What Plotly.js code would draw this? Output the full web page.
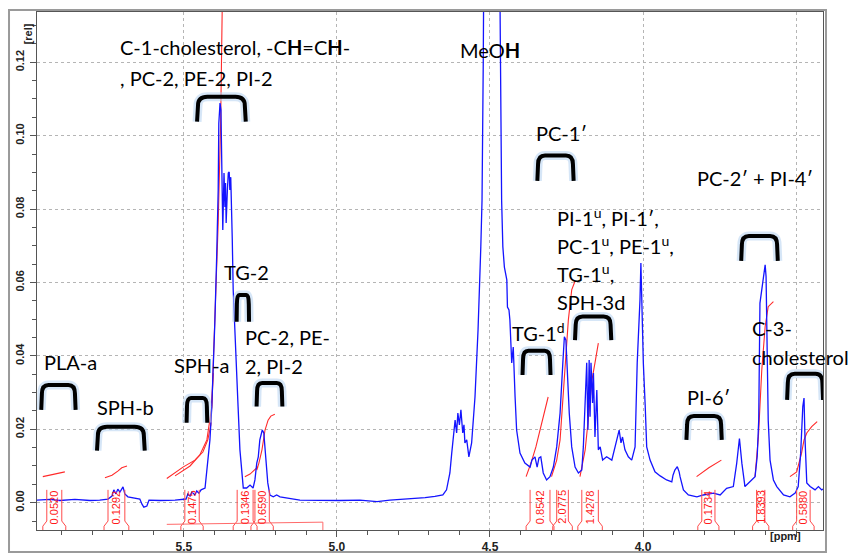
<!DOCTYPE html>
<html><head><meta charset="utf-8">
<script src="https://cdn.plot.ly/plotly-3.0.1.min.js"></script>
<style>html,body{margin:0;padding:0;background:#fff;}#chart{width:856px;height:554px;}</style>
</head><body><div id="chart"></div>
<script>
// ---- 1H NMR spectrum (ppm, relative intensity) ----
const ppm = [
5.980,5.938,5.905,5.856,5.807,5.775,5.748,5.735,5.729,5.722,
5.716,5.709,5.699,5.693,5.683,5.663,5.644,5.637,5.631,5.621,
5.614,5.578,5.529,5.493,5.487,5.480,5.474,5.464,5.458,5.451,
5.444,5.431,5.422,5.415,5.409,5.404,5.399,5.393,5.388,5.386,
5.382,5.379,5.377,5.375,5.373,5.369,5.366,5.364,5.362,5.358,
5.355,5.352,5.350,5.347,5.344,5.342,5.339,5.333,5.328,5.323,
5.317,5.311,5.306,5.295,5.284,5.274,5.268,5.262,5.257,5.252,
5.244,5.239,5.232,5.226,5.219,5.208,5.197,5.186,5.121,5.056,
4.990,4.925,4.869,4.827,4.761,4.712,4.680,4.654,4.642,4.631,
4.625,4.621,4.614,4.609,4.605,4.600,4.595,4.589,4.585,4.582,
4.576,4.569,4.560,4.549,4.539,4.530,4.526,4.522,4.520,4.513,
4.493,4.474,4.467,4.462,4.458,4.453,4.445,4.443,4.438,4.435,
4.429,4.424,4.418,4.413,4.402,4.386,4.369,4.363,4.353,4.346,
4.340,4.334,4.326,4.315,4.304,4.293,4.282,4.271,4.262,4.257,
4.252,4.246,4.241,4.233,4.222,4.211,4.200,4.195,4.189,4.184,
4.180,4.176,4.173,4.170,4.165,4.162,4.157,4.151,4.146,4.140,
4.132,4.119,4.102,4.092,4.084,4.078,4.072,4.067,4.059,4.048,
4.037,4.026,4.019,4.014,4.010,4.007,4.003,3.999,3.993,3.988,
3.977,3.961,3.944,3.931,3.923,3.906,3.902,3.896,3.888,3.882,
3.879,3.868,3.852,3.824,3.803,3.770,3.748,3.727,3.705,3.694,
3.685,3.677,3.667,3.656,3.645,3.634,3.627,3.622,3.618,3.612,
3.608,3.605,3.601,3.598,3.594,3.591,3.585,3.574,3.563,3.541,
3.520,3.503,3.493,3.485,3.478,3.474,3.471,3.465,3.454,3.438,
3.427,3.416,3.412
];
const intensity = [
0.0007,0.0009,0.0006,0.0009,0.0006,0.0007,0.0010,0.0018,0.0035,0.0024,
0.0037,0.0029,0.0043,0.0024,0.0016,0.0013,0.0010,-0.0004,-0.0012,-0.0009,
0.0007,0.0006,0.0007,0.0010,0.0024,0.0018,0.0029,0.0021,0.0032,0.0026,
0.0035,0.0040,0.0125,0.0171,0.0261,0.0353,0.0490,0.0670,0.0852,0.1034,
0.1089,0.1070,0.0988,0.0852,0.0743,0.0898,0.0806,0.0871,0.0762,0.0852,
0.0898,0.0901,0.0852,0.0887,0.0806,0.0716,0.0580,0.0443,0.0353,0.0261,
0.0144,0.0081,0.0040,0.0040,0.0048,0.0040,0.0062,0.0108,0.0125,0.0171,
0.0198,0.0190,0.0125,0.0054,0.0021,0.0016,0.0021,0.0016,0.0007,0.0006,
0.0006,0.0007,0.0003,0.0007,0.0010,0.0014,0.0017,0.0021,0.0035,0.0081,
0.0135,0.0171,0.0225,0.0190,0.0244,0.0212,0.0253,0.0190,0.0212,0.0163,
0.0171,0.0125,0.0163,0.0288,0.0471,0.0697,0.0824,0.1201,0.1356,0.4000,
0.5500,0.4000,0.1337,0.0824,0.0697,0.0642,0.0607,0.0533,0.0525,0.0498,
0.0381,0.0424,0.0288,0.0198,0.0135,0.0108,0.0097,0.0116,0.0125,0.0097,
0.0122,0.0125,0.0081,0.0062,0.0071,0.0097,0.0152,0.0244,0.0381,0.0452,
0.0443,0.0334,0.0244,0.0152,0.0097,0.0081,0.0089,0.0152,0.0288,0.0381,
0.0198,0.0389,0.0234,0.0381,0.0272,0.0353,0.0179,0.0307,0.0144,0.0152,
0.0116,0.0125,0.0116,0.0152,0.0179,0.0198,0.0163,0.0179,0.0144,0.0125,
0.0116,0.0152,0.0381,0.0471,0.0552,0.0653,0.0471,0.0381,0.0266,0.0152,
0.0116,0.0084,0.0073,0.0067,0.0062,0.0057,0.0075,0.0089,0.0098,0.0084,
0.0071,0.0035,0.0021,0.0016,0.0021,0.0026,0.0021,0.0039,0.0044,0.0107,
0.0175,0.0107,0.0044,0.0053,0.0062,0.0071,0.0125,0.0225,0.0544,0.0580,
0.0607,0.0634,0.0648,0.0616,0.0408,0.0225,0.0116,0.0062,0.0044,0.0021,
0.0016,0.0026,0.0044,0.0135,0.0262,0.0285,0.0180,0.0054,0.0044,0.0035,
0.0044,0.0035,0.0037
];

// ---- integral curves (red) ----
const integralPpm = [
  [5.961,5.925,5.889],
  [5.758,5.735,5.716,5.703,5.686],
  [5.556,5.503,5.464,5.438,5.422,5.412,5.404],
  [5.529,5.480,5.448,5.425,5.409,5.399,5.388,5.380,5.376,5.374],
  [5.301,5.284,5.258],
  [5.262,5.255,5.245,5.235,5.225,5.216,5.203],
  [4.382,4.366,4.350,4.330,4.310],
  [4.299,4.282,4.271,4.260,4.252,4.244,4.233,4.222],
  [4.206,4.189,4.178,4.167,4.157,4.146],
  [3.825,3.785,3.744],
  [3.634,3.623,3.612,3.601,3.591,3.574],
  [3.520,3.498,3.482,3.474,3.465,3.449,3.431]
];
const integralValue = [
  [0.0071,0.0078,0.0084],
  [0.0068,0.0075,0.0086,0.0095,0.0100],
  [0.0066,0.0097,0.0116,0.0138,0.0171,0.0212,0.0353],
  [0.0073,0.0100,0.0130,0.0171,0.0261,0.0490,0.0762,0.1034,0.1337,0.1400],
  [0.0071,0.0078,0.0098],
  [0.0089,0.0108,0.0144,0.0198,0.0225,0.0236,0.0241],
  [0.0071,0.0108,0.0152,0.0220,0.0288],
  [0.0071,0.0116,0.0171,0.0315,0.0424,0.0498,0.0580,0.0604],
  [0.0071,0.0144,0.0234,0.0334,0.0381,0.0435],
  [0.0071,0.0095,0.0116],
  [0.0071,0.0180,0.0362,0.0480,0.0534,0.0548],
  [0.0071,0.0084,0.0135,0.0171,0.0190,0.0207,0.0221]
];

// ---- integration regions and their values ----
const regionStart = [5.948,5.748,5.497,5.326,5.268,4.369,4.282,4.200,3.808,3.629,3.498];
const regionEnd   = [5.899,5.693,5.450,5.274,5.221,4.304,4.244,4.146,3.765,3.602,3.454];
const regionLabel = ['0.0520','0.1292','0.1475','0.1346','0.6590','0.8542','2.0775','1.4278','0.1734','1.8393','0.5880'];

// ---- axis ticks ----
const xTickVals = [5.5, 5.0, 4.5, 4.0, 3.5];
const xTickText = ['5.5', '5.0', '4.5', '4.0', ''];

// ---- assignment labels ----
const labelText = ['C-1-cholesterol, -C<b>H</b>=C<b>H</b>-', ', PC-2, PE-2, PI-2', 'MeO<b>H</b>', 'PC-1′', 'PC-2′ + PI-4′',
  'PI-1<sup>u</sup>, PI-1′,', 'PC-1<sup>u</sup>, PE-1<sup>u</sup>,', 'TG-1<sup>u</sup>,', 'SPH-3d', 'TG-1<sup>d</sup>',
  'TG-2', 'PC-2, PE-', '2, PI-2', 'SPH-a', 'PLA-a', 'SPH-b', 'PI-6′', 'C-3-', 'cholesterol'];
const labelPpm = [5.716,5.716,4.604,4.356,3.830,4.288,4.288,4.288,4.288,4.435,5.377,5.307,5.307,5.540,5.964,5.791,3.863,3.650,3.650];
const labelY   = [0.1242,0.1157,0.1234,0.1007,0.0885,0.0779,0.0702,0.0626,0.0547,0.0466,0.0629,0.0452,0.0373,0.0375,0.0383,0.0262,0.0289,0.0476,0.0398];

// ---- bracket marks (left ppm, right ppm, top, bottom) ----
const bracketLeft   = [5.964,5.781,5.490,5.261,5.454,5.327,4.343,3.677,4.220,4.392,3.856,3.527];
const bracketRight  = [5.856,5.631,5.425,5.180,5.301,5.288,4.229,3.562,4.106,4.304,3.745,3.414];
const bracketTop    = [0.0321,0.0207,0.0285,0.0326,0.1106,0.0566,0.0946,0.0727,0.0507,0.0414,0.0236,0.0351];
const bracketBottom = [0.0253,0.0142,0.0218,0.0262,0.1038,0.0493,0.0877,0.0659,0.0443,0.0348,0.0171,0.0280];

const traces = [];
integralPpm.forEach((xs, i) => {
  traces.push({x: xs, y: integralValue[i], type: 'scatter', mode: 'lines',
    line: {color: '#ff2a2a', width: 1.1}, hoverinfo: 'skip', showlegend: false});
});
traces.push({x: ppm, y: intensity, type: 'scatter', mode: 'lines',
  line: {color: '#1414ff', width: 1.3}, showlegend: false});

const shapes = [];
// outer frame
shapes.push({type: 'rect', xref: 'paper', yref: 'paper', x0: -0.0356, x1: 1.0038, y0: -0.0425, y1: 1.0039,
  line: {color: '#9a9a9a', width: 2}, layer: 'below'});
// integration region markers
const topM = 0.0035, midM = -0.0050, flM = -0.0064, botM = -0.0080, fl = 0.013;
regionStart.forEach((a, i) => {
  const b = regionEnd[i];
  shapes.push({type: 'path', xref: 'x', yref: 'y', layer: 'above',
    path: `M ${a},${topM} L ${a},${midM} L ${a+fl},${flM} L ${a+fl},${botM} M ${b},${topM} L ${b},${midM} L ${b-fl},${flM} L ${b-fl},${botM}`,
    line: {color: '#ff4a4a', width: 1}});
});
shapes.push({type: 'path', xref: 'x', yref: 'y', layer: 'above',
  path: `M 5.556,-0.0059 L 5.046,-0.0053 L 5.046,-0.0080`, line: {color: '#ff6a6a', width: 1}});
// brackets
bracketLeft.forEach((xl, i) => {
  const xr = bracketRight[i], yt = bracketTop[i], yb = bracketBottom[i];
  const rx = (xl - xr) * 0.2, ry = (yt - yb) * 0.35;
  const p = `M ${xl+rx*0.1},${yb} L ${xl},${yt-ry} Q ${xl},${yt} ${xl-rx},${yt} L ${xr+rx},${yt} Q ${xr},${yt} ${xr},${yt-ry} L ${xr-rx*0.1},${yb}`;
  shapes.push({type: 'path', xref: 'x', yref: 'y', layer: 'above', path: p,
    line: {color: 'rgba(180,210,240,0.55)', width: 9}});
  shapes.push({type: 'path', xref: 'x', yref: 'y', layer: 'above', path: p,
    line: {color: '#000', width: 4}});
});

const annotations = [];
labelText.forEach((t, i) => {
  annotations.push({x: labelPpm[i], y: labelY[i], xref: 'x', yref: 'y', text: t, showarrow: false,
    xanchor: 'left', yanchor: 'middle', font: {family: 'Lato, sans-serif', size: 20, color: '#000'}});
});
regionLabel.forEach((t, i) => {
  annotations.push({x: (regionStart[i] + regionEnd[i]) / 2, y: -0.0012, xref: 'x', yref: 'y', text: t,
    showarrow: false, textangle: -90, font: {family: 'Liberation Sans, Arial', size: 11, color: '#ff1a1a'}});
});
annotations.push({xref: 'paper', yref: 'paper', x: -0.0216, y: 0.981, text: '[rel]', showarrow: false, textangle: -90,
  font: {family: 'Liberation Sans, Arial', size: 11, weight: 'bold', color: '#222'}});
annotations.push({xref: 'paper', yref: 'paper', x: 0.9746, y: -0.027, text: '[ppm]', showarrow: false,
  font: {family: 'Liberation Sans, Arial', size: 11, weight: 'bold', color: '#222'}});

const layout = {
  width: 856, height: 554,
  margin: {l: 37, r: 33, t: 12, b: 24, pad: 0},
  paper_bgcolor: '#fff', plot_bgcolor: '#fff',
  showlegend: false,
  xaxis: {range: [5.980, 3.412], tickmode: 'array', tickvals: xTickVals, ticktext: xTickText,
    ticks: 'outside', ticklen: 6, tickcolor: '#555', showgrid: true, gridcolor: '#b5b5b5', griddash: 'dot',
    showline: true, linecolor: '#555', mirror: true, zeroline: false,
    tickfont: {family: 'Liberation Sans, Arial', size: 12, weight: 'bold', color: '#222'},
    minor: {tickmode: 'linear', dtick: 0.1, tick0: 0, ticks: 'outside', ticklen: 4, tickcolor: '#555', showgrid: false}},
  yaxis: {range: [-0.00744, 0.1337], tickmode: 'linear', tick0: 0, dtick: 0.02, tickformat: '.2f', tickangle: -90,
    ticks: 'outside', ticklen: 6, tickcolor: '#555', showgrid: true, gridcolor: '#b5b5b5', griddash: 'dot',
    showline: true, linecolor: '#555', mirror: true, zeroline: false, ticklabelstandoff: 2,
    tickfont: {family: 'Liberation Sans, Arial', size: 11, weight: 'bold', color: '#222'},
    minor: {dtick: 0.005, tick0: 0, ticks: 'outside', ticklen: 4, tickcolor: '#555', showgrid: false}},
  shapes: shapes,
  annotations: annotations
};
Plotly.newPlot('chart', traces, layout, {staticPlot: true, displayModeBar: false});
</script></body></html>
